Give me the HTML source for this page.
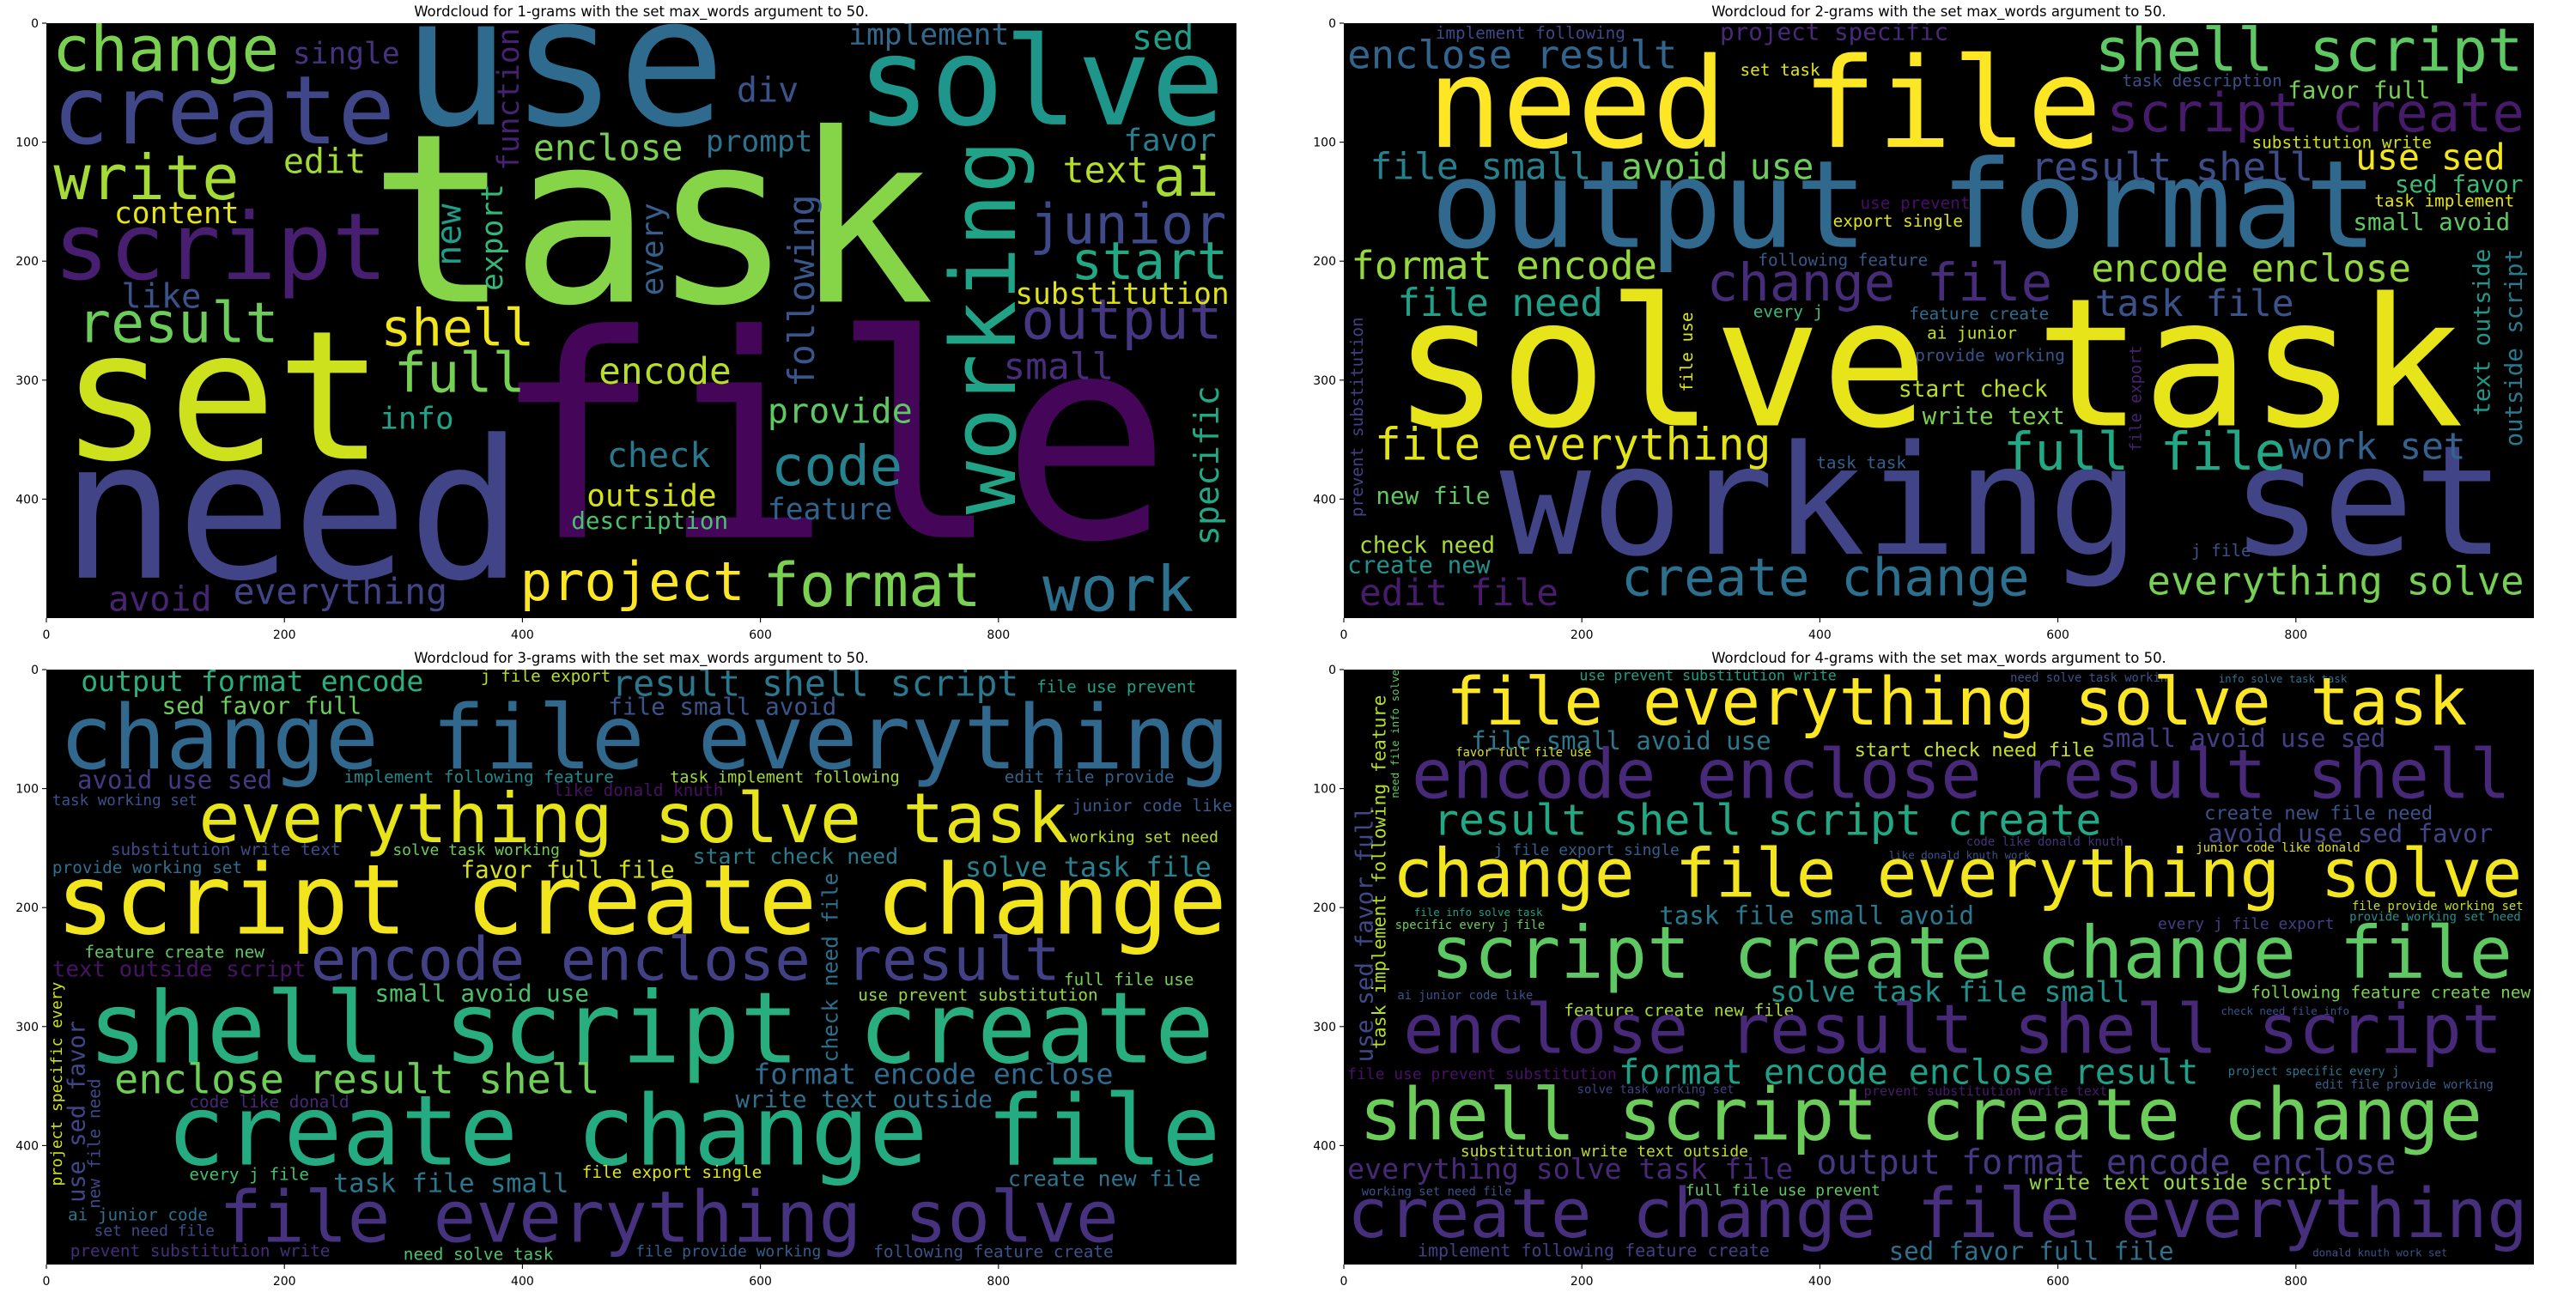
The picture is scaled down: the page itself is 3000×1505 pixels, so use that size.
<!DOCTYPE html>
<html>
<head>
<meta charset="utf-8">
<style>
html,body{margin:0;padding:0;background:#fff;}
body{width:3000px;height:1500px;overflow:hidden;}
svg text{font-family:"DejaVu Sans Mono","Liberation Mono",monospace;}
.lbl{font-family:"DejaVu Sans","Liberation Sans",sans-serif;font-size:14px;fill:#000;}
.ttl{font-family:"DejaVu Sans","Liberation Sans",sans-serif;font-size:16.5px;fill:#000;}
</style>
</head>
<body>
<svg id="fig" xmlns="http://www.w3.org/2000/svg" width="3000" height="1500" viewBox="0 0 3000 1500"></svg>
<script>
// Panel titles
const titles = [
 "Wordcloud for 1-grams with the set max_words argument to 50.",
 "Wordcloud for 2-grams with the set max_words argument to 50.",
 "Wordcloud for 3-grams with the set max_words argument to 50.",
 "Wordcloud for 4-grams with the set max_words argument to 50."
];
const xTicks = [0,200,400,600,800];
const yTicks = [0,100,200,300,400];
// word entries: [text, x, y(baseline), fontSize, color, vertical]
const words1 = [
 ["use",299,85,151,"#2f6b8e",0],["task",271,234,198,"#86d549",0],["file",374,432,238,"#450559",0],
 ["set",12,366,151,"#cde11d",0],["need",12,466,162,"#414487",0],["solve",681,85,103,"#1f968b",0],
 ["create",5,101,80,"#3f4788",0],["change",5,40,53,"#7ad151",0],["script",6,215,78,"#481f70",0],
 ["write",6,148,52,"#a5db36",0],["result",26,268,47,"#6ccd5a",0],["working",814,413,75,"#20a386",1],
 ["junior",826,185,46,"#3e4989",0],["start",861,215,44,"#22a884",0],["output",819,265,47,"#453781",0],
 ["shell",281,271,43,"#f1e51d",0],["full",292,310,46,"#75d054",0],["encode",464,303,31,"#b8de29",0],
 ["enclose",409,115,30,"#7ad151",0],["prompt",554,108,25,"#2c728e",0],["implement",674,18,25,"#31688e",0],
 ["sed",912,22,29,"#1f9e89",0],["favor",905,107,26,"#287d8e",0],["text",854,134,30,"#b5de2b",0],
 ["ai",930,145,46,"#a5db36",0],["substitution",814,236,25,"#dde318",0],["small",804,299,31,"#472d7b",0],
 ["code",609,388,46,"#26828e",0],["provide",606,336,29,"#5ec962",0],["feature",606,417,25,"#33638d",0],
 ["format",602,490,51,"#7ad151",0],["work",837,494,53,"#2c728e",0],["project",398,485,45,"#fde725",0],
 ["outside",454,406,26,"#d8e219",0],["description",441,425,20,"#4ac16d",0],["check",471,373,29,"#2a788e",0],
 ["info",280,341,26,"#20a386",0],["everything",157,488,30,"#414487",0],["avoid",52,494,29,"#482475",0],
 ["like",63,239,28,"#3b528b",0],["content",57,168,25,"#e5e419",0],["edit",199,126,29,"#a0da39",0],
 ["single",207,34,25,"#46327e",0],["div",580,66,29,"#3b528b",0],["function",397,124,25,"#482173",1],
 ["export",383,225,25,"#35b779",1],["new",348,204,29,"#1f9e89",1],["every",518,229,26,"#355f8d",1],
 ["following",645,306,30,"#39568c",1],["specific",985,439,28,"#22a884",1]
];
const words2 = [
 ["need file",70,104,105,"#fde725",0],["output format",73,188,102,"#31688e",0],["solve task",41,338,150,"#e7e419",0],
 ["working set",131,446,128,"#414487",0],["shell script",631,40,50,"#5ec962",0],["script create",641,91,45,"#481a6c",0],
 ["enclose result",3,38,33,"#32658e",0],["implement following",77,13,14,"#3f4889",0],["project specific",316,14,20,"#482979",0],
 ["set task",333,44,14,"#dfe318",0],["task description",654,53,14,"#3b518b",0],["favor full",793,63,20,"#75d054",0],
 ["substitution write",763,105,14,"#d0e11c",0],["use sed",850,123,30,"#f4e61e",0],["sed favor",883,142,20,"#3bbb75",0],
 ["task implement",866,154,14,"#e5e419",0],["small avoid",848,174,20,"#5ec962",0],["file small",22,131,31,"#27808e",0],
 ["avoid use",233,131,30,"#6ccd5a",0],["result shell",577,132,33,"#3e4c8a",0],["use prevent",434,156,14,"#4a0c6b",0],
 ["export single",411,171,14,"#dde318",0],["format encode",6,215,33,"#95d840",0],["following feature",348,204,14,"#38598c",0],
 ["change file",305,233,44,"#472c7a",0],["encode enclose",628,217,32,"#95d840",0],["file need",45,246,32,"#1fa088",0],
 ["task file",631,246,31,"#3b528b",0],["every j",344,247,14,"#3cbb75",0],["feature create",475,249,14,"#2f6c8e",0],
 ["ai junior",490,265,14,"#c2df23",0],["provide working",480,284,14,"#3a548c",0],["start check",466,314,19,"#b8de29",0],
 ["write text",486,337,20,"#7ad151",0],["file everything",26,367,37,"#e2e418",0],["full file",554,375,44,"#22a884",0],
 ["work set",794,366,31,"#33638d",0],["task task",397,374,14,"#34618d",0],["new file",27,404,20,"#5ec962",0],
 ["check need",13,445,19,"#a8db34",0],["create new",3,462,20,"#20928c",0],["edit file",13,489,31,"#481b6d",0],
 ["create change",233,481,44,"#2d708e",0],["everything solve",675,480,33,"#75d054",0],["j file",712,448,14,"#3b528b",0],
 ["prevent substitution",16,415,14,"#424086",1],["file use",293,310,14,"#dde318",1],["file export",670,360,13.5,"#482173",1],
 ["text outside",963,330,19.5,"#1f988b",1],["outside script",990,356,19.8,"#297a8e",1]
];
const words3 = [
 ["output format encode",29,18,24,"#2ab07f",0],["j file export",365,10,14,"#b5de2b",0],["result shell script",475,22,30,"#2a788e",0],
 ["file use prevent",832,19,14,"#1fa187",0],["sed favor full",97,37,20,"#6ccd5a",0],["file small avoid",472,38,20,"#3a548c",0],
 ["change file everything",11,83,74.5,"#31688e",0],["avoid use sed",26,100,21,"#443a83",0],["implement following feature",250,95,14,"#23898e",0],
 ["task implement following",524,95,13.4,"#a2da37",0],["edit file provide",805,95,14,"#33638d",0],["like donald knuth",426,106,14,"#471063",0],
 ["task working set",5,114,12.7,"#3b528b",0],["junior code like",862,119,14,"#38598c",0],["everything solve task",128,145,58,"#e7e419",0],
 ["working set need",860,145,13,"#b5de2b",0],["substitution write text",54,156,14,"#3e4c8a",0],["solve task working",291,156,13,"#6ccd5a",0],
 ["start check need",543,163,18,"#287c8e",0],["provide working set",5,171,14,"#2e6f8e",0],["favor full file",348,175,20,"#d5e21a",0],
 ["solve task file",772,174,23,"#26828e",0],["script create change",8,222,82,"#f2e51d",0],["feature create new",32,242,14,"#5ec962",0],
 ["text outside script",5,258,18.7,"#471365",0],["encode enclose result",222,261,50,"#424186",0],["full file use",855,265,14,"#75d054",0],
 ["small avoid use",276,279,20,"#4ac16d",0],["use prevent substitution",682,278,14,"#93d741",0],["shell script create",35,330,83,"#29af7f",0],
 ["enclose result shell",57,356,34,"#6ece58",0],["format encode enclose",594,348,24,"#2f6b8e",0],["code like donald",120,368,14,"#482878",0],
 ["write text outside",579,368,20,"#2c728e",0],["create change file",101,416,82,"#25ab82",0],["every j file",120,429,14,"#44bf70",0],
 ["file export single",450,427,14,"#dde318",0],["task file small",241,439,22,"#2a788e",0],["create new file",808,434,18,"#2b758e",0],
 ["file everything solve",145,481,60,"#46327e",0],["ai junior code",18,463,14,"#2c728e",0],["set need file",40,476,13,"#3e4a89",0],
 ["prevent substitution write",20,493,14,"#472d7b",0],["need solve task",300,496,14,"#4ec36b",0],["file provide working",495,493,13,"#355f8d",0],
 ["following feature create",695,494,14,"#3b528b",0],["check need file",665,330,17.7,"#2d708e",1],["use sed favor",32,448,19.6,"#3f4788",1],
 ["project specific every",13,434,13,"#d0e11c",1],["new file need",45,453,14,"#3e4989",1]
];
const words4 = [
 ["use prevent substitution write",198,9,12,"#1fa088",0],["need solve task working",560,10,10,"#3b528b",0],["info solve task task",735,11,9,"#2c728e",0],
 ["file everything solve task",86,46,55,"#fde725",0],["file small avoid use",107,67,21,"#2a788e",0],["small avoid use sed",636,65,21,"#433e85",0],
 ["start check need file",429,73,16,"#c8e020",0],["favor full file use",94,73,10,"#dde318",0],["encode enclose result shell",57,108,57,"#482878",0],
 ["result shell script create",75,139,36,"#22a884",0],["create new file need",723,126,16,"#3b528b",0],["avoid use sed favor",726,145,21,"#414487",0],
 ["code like donald knuth",523,148,10,"#46337e",0],["junior code like donald",716,153,10,"#e5e419",0],["j file export single",126,156,13,"#355f8d",0],
 ["like donald knuth work",458,159,9,"#3b528b",0],["change file everything solve",41,191,56.5,"#f4e61e",0],["file provide working set",847,202,10,"#c2df23",0],
 ["provide working set need",845,211,10,"#21918c",0],["file info solve task",59,207,9,"#1fa187",0],["specific every j file",43,218,10,"#6ece58",0],
 ["task file small avoid",265,214,21,"#2a788e",0],["every j file export",684,218,13,"#433e85",0],["script create change file",73,259,60.6,"#5ec962",0],
 ["solve task file small",358,279,24,"#20928c",0],["following feature create new",762,276,14,"#7ad151",0],["ai junior code like",45,277,10,"#3b528b",0],
 ["feature create new file",185,291,14,"#a8db34",0],["check need file info",737,290,9,"#3b528b",0],["enclose result shell script",50,322,57,"#482878",0],
 ["format encode enclose result",231,348,29,"#1fa088",0],["file use prevent substitution",3,344,13,"#4b0f6b",0],["project specific every j",743,341,10,"#2a788e",0],
 ["edit file provide working",816,352,10,"#355f8d",0],["solve task working set",196,356,10,"#414487",0],["prevent substitution write text",437,358,11,"#481a6c",0],
 ["shell script create change",13,395,60.5,"#6ccd5a",0],["substitution write text outside",98,409,13,"#c2df23",0],["everything solve task file",3,428,24,"#482878",0],
 ["output format encode enclose",397,424,29,"#453781",0],["write text outside script",576,437,17,"#95d840",0],["full file use prevent",287,442,13,"#5ec962",0],
 ["working set need file",15,442,10,"#3b528b",0],["create change file everything",3,477,57,"#472f7d",0],["implement following feature create",62,493,14.5,"#433e85",0],
 ["sed favor full file",458,496,21,"#2c728e",0],["donald knuth work set",814,493,9,"#3b528b",0],["use sed favor full",24,330,20,"#3e4989",1],
 ["task implement following feature",35,319,15.5,"#b5de2b",1],["need file info solve",46,108,9,"#5ec962",1]
];
const panels = [
 {x:54,y:27,w:1386,h:693,words:words1,name:"unigram"},
 {x:1565,y:27,w:1386,h:693,words:words2,name:"bigram"},
 {x:54,y:780,w:1386,h:693,words:words3,name:"trigram"},
 {x:1565,y:780,w:1386,h:693,words:words4,name:"fourgram"}
];
const NS="http://www.w3.org/2000/svg";
const fig=document.getElementById('fig');
function mk(tag,parent){const e=document.createElementNS(NS,tag);parent.appendChild(e);return e;}
panels.forEach((p,pi)=>{
  const g=mk('g',fig);
  
  
  const t=mk('text',g);
  
  
  t.setAttribute('class','ttl');t.setAttribute('x',p.x+p.w/2);t.setAttribute('y',p.y-8);
  t.setAttribute('text-anchor','middle');t.textContent=titles[pi];
  const sv=mk('svg',g);
  
  
  sv.setAttribute('x',p.x);sv.setAttribute('y',p.y);sv.setAttribute('width',p.w);sv.setAttribute('height',p.h);
  sv.setAttribute('viewBox','0 0 1000 500');sv.setAttribute('preserveAspectRatio','none');
  const bg=mk('rect',sv);
  
  
  bg.setAttribute('width',1000);bg.setAttribute('height',500);bg.setAttribute('fill','#000');
  p.words.forEach(w=>{
    const [txt,x,y,s,c,v]=w;
    const e=mk('text',sv);
    
    
    e.setAttribute('font-size',s);e.setAttribute('fill',c);
    e.setAttribute('textLength',(txt.length*0.6*s).toFixed(1));
    e.setAttribute('lengthAdjust','spacingAndGlyphs');
    if(v){e.setAttribute('transform','translate('+x+','+y+') rotate(-90)');e.setAttribute('x',0);e.setAttribute('y',0);}
    else{e.setAttribute('x',x);e.setAttribute('y',y);}
    e.textContent=txt;
  });
  const sx=p.w/1000, sy=p.h/500;
  xTicks.forEach(v=>{
    const px=p.x+v*sx;
    const l=mk('line',g);
    
    
    l.setAttribute('x1',px);l.setAttribute('x2',px);l.setAttribute('y1',p.y+p.h);l.setAttribute('y2',p.y+p.h+5);
    l.setAttribute('stroke','#000');l.setAttribute('stroke-width',1.1);
    const tl=mk('text',g);
    
    
    tl.setAttribute('class','lbl');tl.setAttribute('x',px);tl.setAttribute('y',p.y+p.h+24);
    tl.setAttribute('text-anchor','middle');tl.textContent=v;
  });
  yTicks.forEach(v=>{
    const py=p.y+v*sy;
    const l=mk('line',g);
    
    
    l.setAttribute('x1',p.x-5);l.setAttribute('x2',p.x);l.setAttribute('y1',py);l.setAttribute('y2',py);
    l.setAttribute('stroke','#000');l.setAttribute('stroke-width',1.1);
    const tl=mk('text',g);
    
    
    tl.setAttribute('class','lbl');tl.setAttribute('x',p.x-9);tl.setAttribute('y',py+5);
    tl.setAttribute('text-anchor','end');tl.textContent=v;
  });
});
</script>
</body>
</html>
